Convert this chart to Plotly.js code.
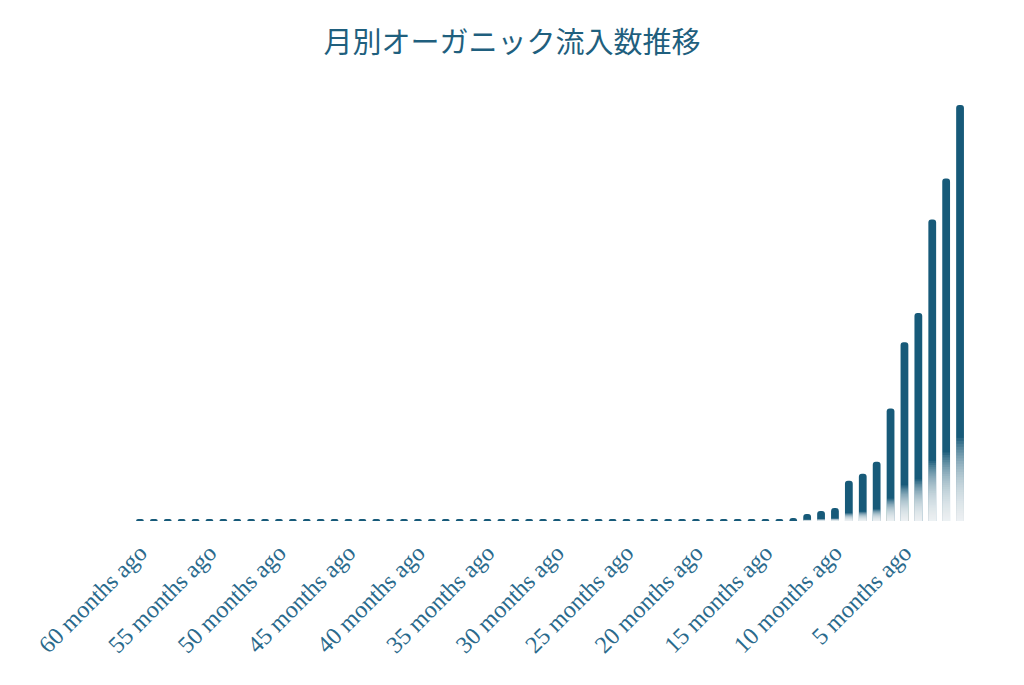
<!DOCTYPE html>
<html>
<head>
<meta charset="utf-8">
<script src="https://cdn.plot.ly/plotly-3.0.1.min.js"></script>
<style>html,body{margin:0;padding:0;background:#fff;}#chart{width:1024px;height:685px;}</style>
</head>
<body>
<div id="chart"></div>
<script>
const months = [
  "60 months ago","59 months ago","58 months ago","57 months ago","56 months ago",
  "55 months ago","54 months ago","53 months ago","52 months ago","51 months ago",
  "50 months ago","49 months ago","48 months ago","47 months ago","46 months ago",
  "45 months ago","44 months ago","43 months ago","42 months ago","41 months ago",
  "40 months ago","39 months ago","38 months ago","37 months ago","36 months ago",
  "35 months ago","34 months ago","33 months ago","32 months ago","31 months ago",
  "30 months ago","29 months ago","28 months ago","27 months ago","26 months ago",
  "25 months ago","24 months ago","23 months ago","22 months ago","21 months ago",
  "20 months ago","19 months ago","18 months ago","17 months ago","16 months ago",
  "15 months ago","14 months ago","13 months ago","12 months ago","11 months ago",
  "10 months ago","9 months ago","8 months ago","7 months ago","6 months ago",
  "5 months ago","4 months ago","3 months ago","2 months ago","1 month ago"
];
const organicVisits = [
  20,20,20,20,20, 20,20,20,20,20,
  20,20,20,20,20, 20,20,20,20,20,
  20,20,20,20,20, 20,20,20,20,20,
  20,20,20,20,20, 20,20,20,20,20,
  20,20,20,20,20, 20,20,30,70,100,
  130,400,470,590,1120, 1780,2070,3000,3410,4140
];
const tickLabels = [
  "60 months ago","55 months ago","50 months ago","45 months ago","40 months ago",
  "35 months ago","30 months ago","25 months ago","20 months ago","15 months ago",
  "10 months ago","5 months ago"
];
const chartTitle = "月別オーガニック流入数推移";

const barWidth = 0.56;
const traces = [{
  type: 'bar',
  x: months,
  y: organicVisits,
  width: barWidth,
  marker: {color: '#175a79', cornerradius: 3, line: {width: 0}},
  hoverinfo: 'x+y',
  showlegend: false
}];
// bottom fade: stacked translucent white layers over the lower part of each bar
const layers = 36;
const fadeFrac = 0.2;
for (let k = 1; k <= layers; k++) {
  traces.push({
    type: 'bar',
    x: months,
    y: organicVisits.map(v => v > 60 ? v * fadeFrac * Math.pow(k / layers, 1.3) : 0),
    width: barWidth,
    marker: {color: 'rgba(255,255,255,0.08)', line: {width: 0}},
    hoverinfo: 'skip',
    showlegend: false
  });
}

const layout = {
  width: 1024, height: 685,
  paper_bgcolor: '#ffffff', plot_bgcolor: '#ffffff',
  barmode: 'overlay',
  margin: {l: 133, r: 57, t: 90, b: 164},
  title: {
    text: chartTitle,
    x: 0.5, xref: 'container', y: 0.938, yref: 'container', yanchor: 'middle',
    font: {family: '"Liberation Serif", "Noto Sans CJK JP", serif', size: 29, color: '#1f5f7e'}
  },
  xaxis: {
    type: 'category',
    tickmode: 'array',
    tickvals: tickLabels,
    ticktext: tickLabels,
    tickangle: -45,
    ticklabelstandoff: 12,
    tickfont: {family: '"Liberation Serif", serif', size: 24, color: '#2a6a8c'},
    showgrid: false, zeroline: false, showline: false, ticks: ''
  },
  yaxis: {
    range: [0, 4290],
    visible: false,
    showgrid: false, zeroline: false
  }
};
Plotly.newPlot('chart', traces, layout, {displayModeBar: false, staticPlot: true});
</script>
</body>
</html>
